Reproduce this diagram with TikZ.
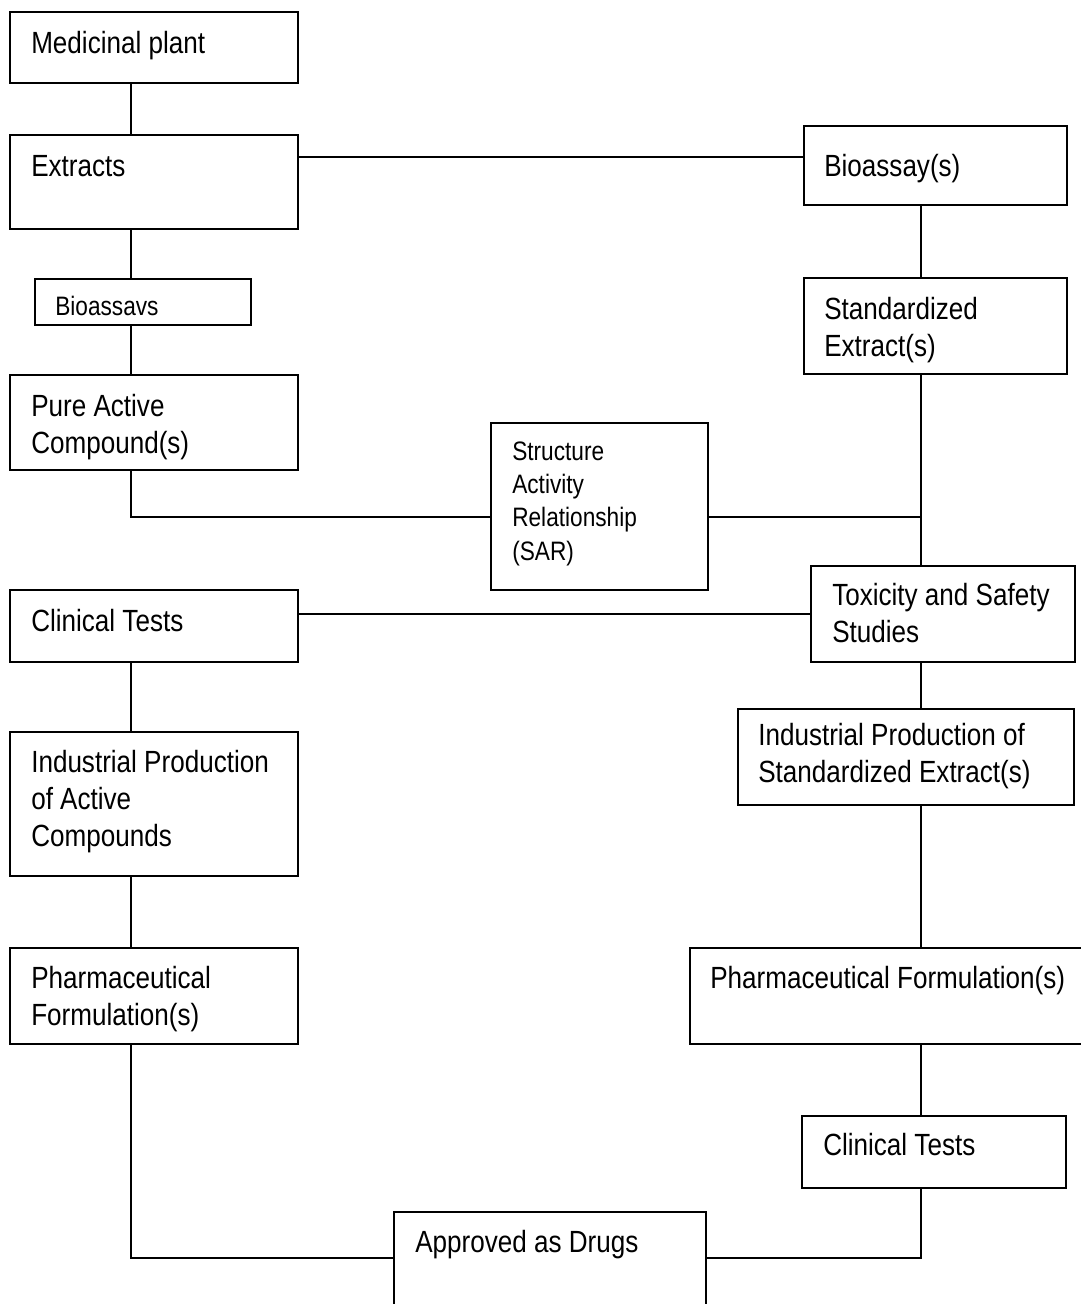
\documentclass[tikz,border=0pt]{standalone}
\usepackage{fontspec}
\setmainfont{Liberation Sans}[FakeStretch=0.85]
\usetikzlibrary{fit}
\begin{document}
\begin{tikzpicture}[x=0.75pt,y=-0.75pt,
  box/.style={draw, line width=1.5pt, rectangle, inner sep=0pt},
  lbl/.style={anchor=base west, inner sep=0pt, align=left, font=\fontsize{23pt}{27.7pt}\selectfont},
  slbl/.style={anchor=base west, inner sep=0pt, align=left, font=\fontsize{20pt}{25pt}\selectfont},
  conn/.style={line width=1.5pt}]
\useasboundingbox (0,0) rectangle (1081,1304);
\clip (0,0) rectangle (1081,1304);
\fill[white] (0,0) rectangle (1081,1304);
\coordinate (lx) at (131,0);
\coordinate (rx) at (921,0);
% boxes
\node[box, fit={(10,12) (298,83)}] (mp) {};
\node[box, fit={(10,135) (298,229)}] (ex) {};
\node[box, fit={(804,126) (1067,205)}] (ba) {};
\node[box, fit={(35,279) (251,325)}] (bs) {};
\node[box, fit={(804,278) (1067,374)}] (se) {};
\node[box, fit={(10,375) (298,470)}] (pa) {};
\node[box, fit={(491,423) (708,590)}] (sar) {};
\node[box, fit={(811,566) (1075,662)}] (tox) {};
\node[box, fit={(10,590) (298,662)}] (ctl) {};
\node[box, fit={(738,709) (1074,805)}] (ipr) {};
\node[box, fit={(10,732) (298,876)}] (ipl) {};
\node[box, fit={(10,948) (298,1044)}] (pfl) {};
\node[box, fit={(690,948) (1100,1044)}] (pfr) {};
\node[box, fit={(802,1116) (1066,1188)}] (ctr) {};
\node[box, fit={(394,1212) (706,1330)}] (ad) {};
% labels (base = baseline of last line)
\node[lbl] (t1) at (31,53) {Medicinal plant};
\node[lbl] (t2) at (31,176) {Extracts};
\node[lbl] (t3) at (824,176) {Bioassay(s)};
\node[slbl] (t4) at (55,315) {Bioassavs};
\node[lbl] (t5) at (824,356) {Standardized\\Extract(s)};
\node[lbl] (t6) at (31,453) {Pure Active\\Compound(s)};
\node[slbl] (t7) at (512,560) {Structure\\Activity\\Relationship\\(SAR)};
\node[lbl] (t8) at (832,642) {Toxicity and Safety\\Studies};
\node[lbl] (t9) at (31,631) {Clinical Tests};
\node[lbl] (t10) at (758,782) {Industrial Production of\\Standardized Extract(s)};
\node[lbl] (t11) at (31,846) {Industrial Production\\of Active\\Compounds};
\node[lbl] (t12) at (31,1025) {Pharmaceutical\\Formulation(s)};
\node[lbl] (t13) at (710,988) {Pharmaceutical Formulation(s)};
\node[lbl] (t14) at (823,1155) {Clinical Tests};
\node[lbl] (t15) at (415,1252) {Approved as Drugs};
% connectors
\draw[conn] (mp.south -| lx) -- (ex.north -| lx);
\draw[conn] (ex.south -| lx) -- (bs.north -| lx);
\draw[conn] (bs.south -| lx) -- (pa.north -| lx);
\coordinate (j1) at (131,517);
\draw[conn] (pa.south -| lx) -- (j1) -- (j1 -| sar.west);
\coordinate (r1) at (921,517);
\draw[conn] (r1 -| sar.east) -- (r1);
\coordinate (h1) at (0,157);
\draw[conn] (h1 -| ex.east) -- (h1 -| ba.west);
\draw[conn] (ba.south -| rx) -- (se.north -| rx);
\draw[conn] (se.south -| rx) -- (tox.north -| rx);
\coordinate (h2) at (0,614);
\draw[conn] (h2 -| ctl.east) -- (h2 -| tox.west);
\draw[conn] (tox.south -| rx) -- (ipr.north -| rx);
\draw[conn] (ctl.south -| lx) -- (ipl.north -| lx);
\draw[conn] (ipl.south -| lx) -- (pfl.north -| lx);
\draw[conn] (ipr.south -| rx) -- (pfr.north -| rx);
\draw[conn] (pfr.south -| rx) -- (ctr.north -| rx);
\coordinate (bl) at (131,1258);
\coordinate (br) at (921,1258);
\draw[conn] (pfl.south -| lx) -- (bl) -- (bl -| ad.west);
\draw[conn] (ctr.south -| rx) -- (br) -- (br -| ad.east);
\end{tikzpicture}
\end{document}
